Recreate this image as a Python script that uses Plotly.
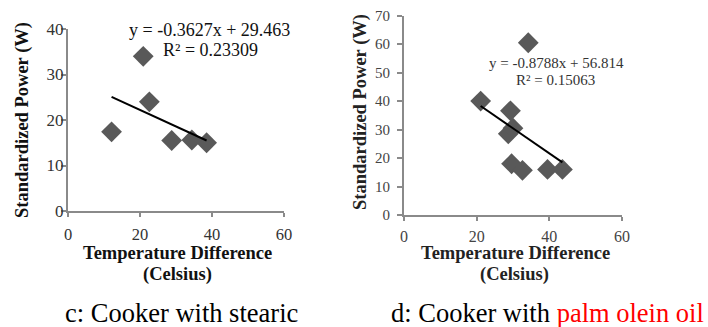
import plotly.graph_objects as go

# ---- data ----
temp_c = [12.1, 20.9, 22.6, 28.8, 34.4, 38.5]
power_c = [17.4, 34.0, 24.0, 15.5, 15.6, 15.0]
slope_c, intercept_c = -0.3627, 29.463
eq_c = "y = -0.3627x + 29.463"
r2_c = "R² = 0.23309"

temp_d = [21.1, 34.2, 29.3, 28.7, 30.0, 29.6, 32.6, 39.5, 43.6]
power_d = [40.0, 60.5, 36.6, 28.5, 30.5, 18.0, 15.7, 16.0, 16.0]
slope_d, intercept_d = -0.8788, 56.814
eq_d = "y = -0.8788x + 56.814"
r2_d = "R² = 0.15063"

x_ticks = [0, 20, 40, 60]
y_ticks_c = [0, 10, 20, 30, 40]
y_ticks_d = [0, 10, 20, 30, 40, 50, 60, 70]

x_title = "Temperature Difference"
x_unit = "(Celsius)"
y_title = "Standardized Power (W)"
caption_c = "c: Cooker with stearic"
caption_d_a = "d: Cooker with "
caption_d_b = "palm olein oil"

W, H = 708, 327
SERIF = "Liberation Serif, Times New Roman, serif"
MARK = "#595959"
AX = "#8a8a8a"


def px(x):
    return x / W


def py(y):
    return 1 - y / H


fig = go.Figure()

for temps, pows, m, b, xa, ya in [
    (temp_c, power_c, slope_c, intercept_c, "x", "y"),
    (temp_d, power_d, slope_d, intercept_d, "x2", "y2"),
]:
    fig.add_trace(go.Scatter(
        x=temps, y=pows, mode="markers", xaxis=xa, yaxis=ya,
        marker=dict(symbol="diamond", size=16, color=MARK, line=dict(width=0)),
        showlegend=False, hoverinfo="x+y"))
    xs = [min(temps), max(temps)]
    fig.add_trace(go.Scatter(
        x=xs, y=[m * v + b for v in xs], mode="lines", xaxis=xa, yaxis=ya,
        line=dict(color="black", width=2), showlegend=False, hoverinfo="skip"))

axis_common = dict(showgrid=False, zeroline=False, showline=True, linecolor=AX,
                   linewidth=2, ticks="outside", tickcolor=AX, tickwidth=1.5,
                   fixedrange=True, automargin=False)

fig.update_layout(
    width=W, height=H,
    margin=dict(l=0, r=0, t=0, b=0, pad=0, autoexpand=False),
    paper_bgcolor="white", plot_bgcolor="white",
    font=dict(family=SERIF, color="#222"),
    xaxis=dict(domain=[px(68), px(284)], range=[0, 60], tickvals=x_ticks,
               ticklen=4, ticklabelstandoff=3, anchor="y",
               tickfont=dict(size=16.5, family=SERIF, color="#333"), **axis_common),
    yaxis=dict(domain=[py(211), py(29)], range=[0, 40], tickvals=y_ticks_c,
               ticklen=5, ticklabelstandoff=-6, anchor="x",
               tickfont=dict(size=17, family=SERIF, color="#333"), **axis_common),
    xaxis2=dict(domain=[px(404), px(622)], range=[0, 60], tickvals=x_ticks,
                ticklen=4, ticklabelstandoff=2, anchor="y2",
                tickfont=dict(size=16, family=SERIF, color="#444"), **axis_common),
    yaxis2=dict(domain=[py(215), py(15.7)], range=[0, 70], tickvals=y_ticks_d,
                ticklen=5, ticklabelstandoff=4, anchor="x2",
                tickfont=dict(size=15, family=SERIF, color="#444"), **axis_common),
)

ann = []


def text(x, y, s, size, bold=False, color="#111", angle=0):
    ann.append(dict(xref="paper", yref="paper", x=px(x), y=py(y),
                    xanchor="center", yanchor="middle", showarrow=False,
                    text=f"<b>{s}</b>" if bold else s, textangle=angle,
                    font=dict(family=SERIF, size=size, color=color)))


# equations
text(209, 30, eq_c, 18)
text(210, 50, r2_c, 18)
text(556, 63, eq_d, 15, color="#333")
text(555, 80, r2_d, 15, color="#333")

# axis titles
text(22, 120, y_title, 18.5, bold=True, angle=-90)
text(360, 112, y_title, 18.5, bold=True, angle=-90, color="#222")
text(177, 253, x_title, 18.5, bold=True)
text(177, 274, x_unit, 18.5, bold=True)
text(515, 253, x_title, 18.5, bold=True, color="#222")
text(514, 274, x_unit, 18.5, bold=True, color="#222")

# captions
text(181, 313, caption_c, 26.5, color="black")
text(547, 313, caption_d_a + f"<span style='color:#ff0000'>{caption_d_b}</span>", 26.5, color="black")

fig.update_layout(annotations=ann)

fig.write_html(
    "out.html",
    config={"displayModeBar": False},
    post_script="document.body.style.margin='0';document.body.style.overflow='hidden';",
)
